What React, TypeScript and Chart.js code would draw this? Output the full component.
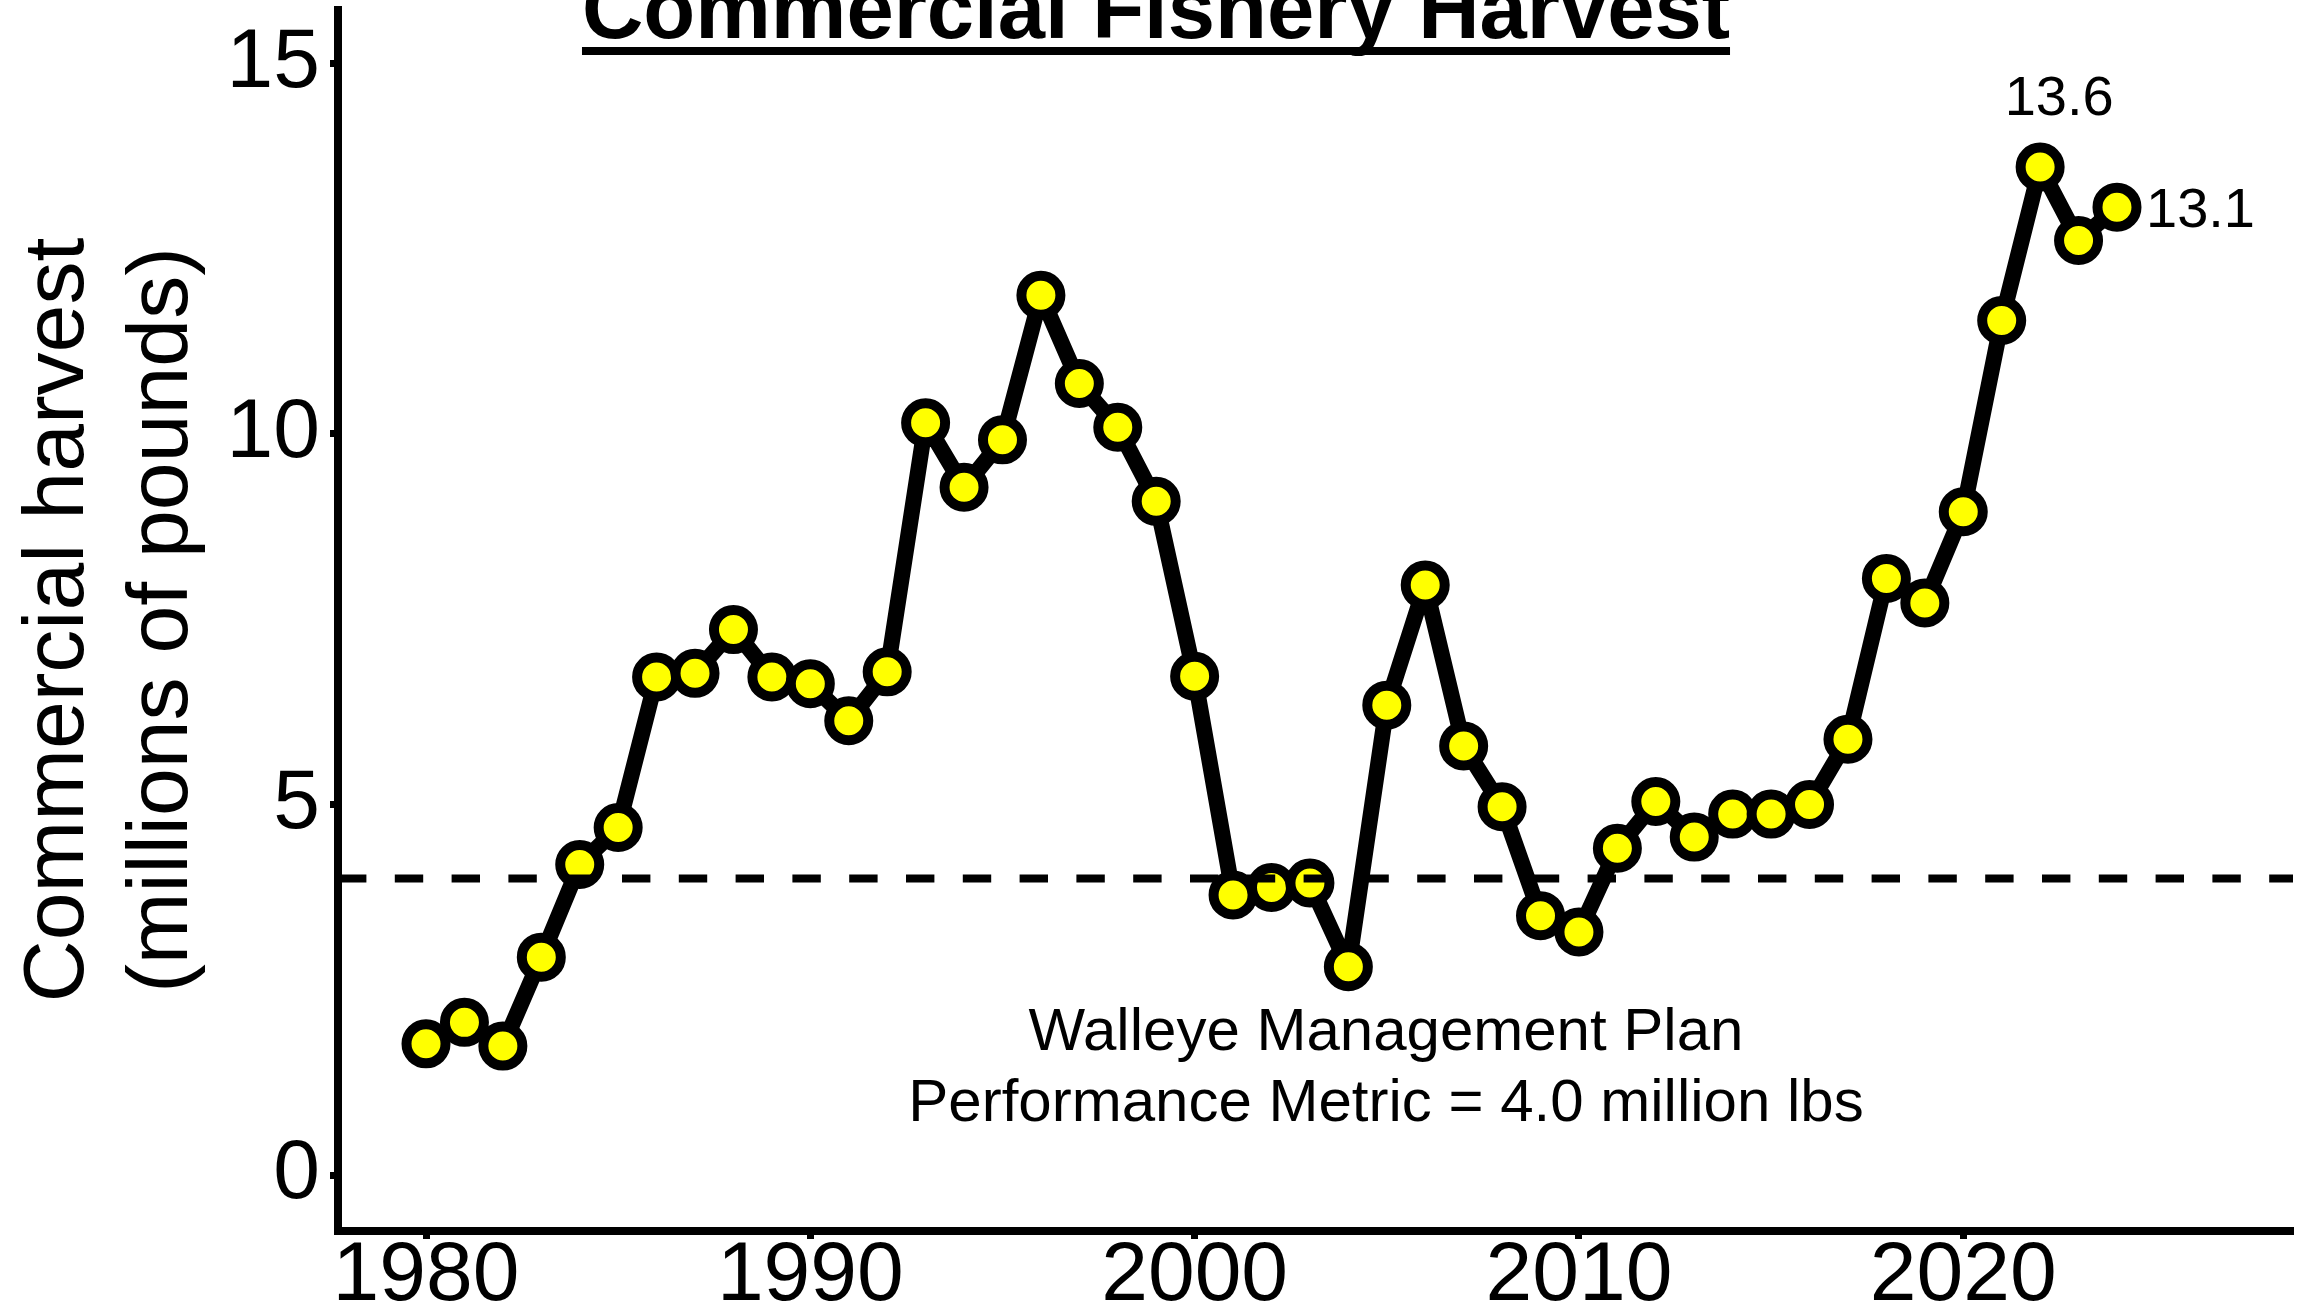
import React, { useEffect, useRef } from 'react';
import { Chart, registerables } from 'chart.js';

Chart.register(...registerables);

// ---- data ----
const years = [
  1980, 1981, 1982, 1983, 1984, 1985, 1986, 1987, 1988, 1989,
  1990, 1991, 1992, 1993, 1994, 1995, 1996, 1997, 1998, 1999,
  2000, 2001, 2002, 2003, 2004, 2005, 2006, 2007, 2008, 2009,
  2010, 2011, 2012, 2013, 2014, 2015, 2016, 2017, 2018, 2019,
  2020, 2021, 2022, 2023, 2024,
];
const harvest = [
  1.77, 2.06, 1.74, 2.94, 4.19, 4.69, 6.72, 6.77, 7.36, 6.72,
  6.63, 6.13, 6.79, 10.15, 9.28, 9.92, 11.87, 10.68, 10.09, 9.09,
  6.73, 3.78, 3.88, 3.94, 2.81, 6.34, 7.96, 5.79, 4.97, 3.5,
  3.28, 4.41, 5.04, 4.56, 4.87, 4.87, 5.0, 5.88, 8.05, 7.72,
  8.95, 11.53, 13.6, 12.61, 13.06,
];
const xTicks = [1980, 1990, 2000, 2010, 2020];
const yTicks = [0, 5, 10, 15];
const titleText = 'Commercial Fishery Harvest';
const yTitleLines = ['Commercial harvest', '(millions of pounds)'];
const metricValue = 4.0;
const metricLines = ['Walleye Management Plan', 'Performance Metric = 4.0 million lbs'];
const labelYears = [2022, 2024];
const labelTexts = ['13.6', '13.1'];

const FONT = "'Liberation Sans', Arial, sans-serif";

const overlay = {
  id: 'overlay',
  afterDatasetsDraw(chart: any) {
    const { ctx, chartArea, scales } = chart;
    const x = scales.x;
    const y = scales.y;
    // dashed performance metric line
    ctx.save();
    ctx.strokeStyle = '#000';
    ctx.lineWidth = 8;
    ctx.setLineDash([28.4, 28.4]);
    ctx.lineDashOffset = 0;
    const yy = y.getPixelForValue(metricValue);
    ctx.beginPath();
    ctx.moveTo(chartArea.left, yy);
    ctx.lineTo(chartArea.right, yy);
    ctx.stroke();
    ctx.restore();

    // annotation text
    ctx.save();
    ctx.fillStyle = '#000';
    ctx.font = `60px ${FONT}`;
    ctx.textAlign = 'center';
    ctx.textBaseline = 'alphabetic';
    ctx.fillText(metricLines[0], 1386, 1050);
    ctx.fillText(metricLines[1], 1386, 1121);
    ctx.restore();

    // value labels
    ctx.save();
    ctx.fillStyle = '#000';
    ctx.font = `56px ${FONT}`;
    ctx.textBaseline = 'alphabetic';
    labelYears.forEach((yr, i) => {
      const idx = years.indexOf(yr);
      const px = x.getPixelForValue(yr);
      const py = y.getPixelForValue(harvest[idx]);
      if (i === 0) {
        ctx.textAlign = 'center';
        ctx.fillText(labelTexts[i], px + 19, py - 52);
      } else {
        ctx.textAlign = 'left';
        ctx.fillText(labelTexts[i], px + 29, py + 20);
      }
    });
    ctx.restore();
  },
  afterDraw(chart: any) {
    const { ctx } = chart;
    // title with underline
    ctx.save();
    ctx.fillStyle = '#000';
    ctx.font = `bold 85px ${FONT}`;
    ctx.textAlign = 'center';
    ctx.textBaseline = 'alphabetic';
    const cx = 1156;
    ctx.fillText(titleText, cx, 38);
    const w = ctx.measureText(titleText).width;
    ctx.fillRect(cx - w / 2, 47, w, 8);
    ctx.restore();

    // y-axis title (two lines, rotated)
    ctx.save();
    ctx.fillStyle = '#000';
    ctx.font = `86px ${FONT}`;
    ctx.textAlign = 'center';
    ctx.textBaseline = 'alphabetic';
    ctx.translate(0, 620);
    ctx.rotate(-Math.PI / 2);
    ctx.fillText(yTitleLines[0], 0, 83);
    ctx.fillText(yTitleLines[1], 0, 187);
    ctx.restore();
  },
};

export default function App() {
  const ref = useRef<HTMLCanvasElement | null>(null);
  useEffect(() => {
    if (!ref.current) return;
    const data = years.map((yr, i) => ({ x: yr, y: harvest[i] }));
    const chart = new Chart(ref.current, {
      type: 'line',
      data: {
        datasets: [
          {
            data,
            borderColor: '#000',
            borderWidth: 16,
            borderJoinStyle: 'round',
            borderCapStyle: 'round',
            tension: 0,
            pointRadius: 19.5,
            pointHoverRadius: 19.5,
            pointBorderWidth: 10,
            pointBackgroundColor: '#FFFF00',
            pointBorderColor: '#000',
            clip: false,
          } as any,
        ],
      },
      options: {
        animation: false,
        responsive: false,
        devicePixelRatio: 1,
        events: [],
        layout: { autoPadding: false, padding: { top: 10, right: 15, left: 0, bottom: 0 } },
        plugins: { legend: { display: false }, tooltip: { enabled: false }, title: { display: false } },
        scales: {
          x: {
            type: 'linear',
            min: 1977.71,
            max: 2028.58,
            afterBuildTicks: (s: any) => {
              s.ticks = xTicks.map((v) => ({ value: v }));
            },
            afterFit: (s: any) => {
              s.height = 83;
              s.paddingLeft = 0;
              s.paddingRight = 0;
              s.paddingTop = 0;
              s.paddingBottom = 0;
            },
            grid: {
              display: true,
              drawOnChartArea: false,
              drawTicks: true,
              tickLength: 8,
              tickWidth: 7,
              tickColor: '#000',
              color: '#000',
            },
            border: { display: true, color: '#000', width: 8 },
            ticks: {
              color: '#000',
              font: { family: FONT, size: 84, lineHeight: 1 },
              padding: -4,
              maxRotation: 0,
              autoSkip: false,
              callback: (v: any) => String(v),
            },
          },
          y: {
            type: 'linear',
            min: -0.755,
            max: 15.72,
            afterBuildTicks: (s: any) => {
              s.ticks = yTicks.map((v) => ({ value: v }));
            },
            afterFit: (s: any) => {
              s.width = 338;
              s.paddingLeft = 0;
              s.paddingRight = 0;
              s.paddingTop = 0;
              s.paddingBottom = 0;
            },
            grid: {
              display: true,
              drawOnChartArea: false,
              drawTicks: true,
              tickLength: 8,
              tickWidth: 7,
              tickColor: '#000',
              color: '#000',
            },
            border: { display: true, color: '#000', width: 8 },
            ticks: {
              color: '#000',
              font: { family: FONT, size: 84, lineHeight: 1 },
              padding: 10,
              callback: (v: any) => String(v),
            },
          },
        },
      } as any,
      plugins: [overlay],
    });
    return () => chart.destroy();
  }, []);

  return (
    <div style={{ position: 'fixed', left: 0, top: 0, width: 2308, height: 1314, background: '#fff' }}>
      <canvas ref={ref} width={2308} height={1314} style={{ width: 2308, height: 1314, display: 'block' }} />
    </div>
  );
}
